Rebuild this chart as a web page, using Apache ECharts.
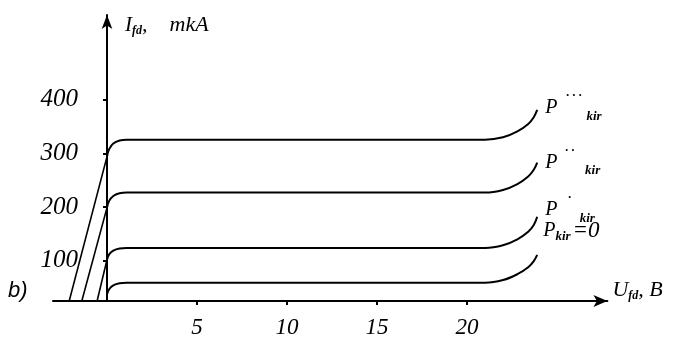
<!DOCTYPE html>
<html>
<head>
<meta charset="utf-8">
<script src="https://cdn.jsdelivr.net/npm/echarts@6/dist/echarts.min.js"></script>
<style>
html,body{margin:0;padding:0;background:#fff;}
#chart{width:676px;height:337px;}
</style>
</head>
<body>
<div id="chart"></div>
<script>
// ---- data ----
const xTicks = [5, 10, 15, 20];
const yTicks = [100, 200, 300, 400];

// U (x) positions of the characteristic curves
const curveU = [0, 0.12, 0.35, 0.7, 1.1, 2, 20, 21.0, 22.0, 22.8, 23.4, 23.7, 23.9];
// I values of the curves
const curveP3 = [294, 308, 318.5, 324, 325.5, 325.5, 325.5, 325.5, 330, 341, 355, 367, 381];
const curveP2 = [199, 211.6, 220.8, 226, 227, 227, 227, 227, 232, 243, 257, 269, 283];
const curveP1 = [102, 112, 119, 123, 124, 124, 124, 124, 129, 140, 154, 166, 182];
const curveP0 = [37, 47, 54, 58, 59, 59, 59, 59, 64, 75, 88, 99, 111];

// load (slanted) lines: start on U axis, end on I axis
const loadStartU = [-2.1, -1.4, -0.55];
const loadEndI = [294, 199, 102];
const axisBaseI = 25;

const serif = '"Liberation Serif", "DejaVu Serif", serif';

function pairs(xs, ys) { return xs.map((x, i) => [x, ys[i]]); }

const chart = echarts.init(document.getElementById('chart'), null, {renderer: 'canvas'});

const lineStyle = {color: '#000', width: 2};

function curveSeries(name, values, fmt, rich, offset) {
  return {
    name: name,
    type: 'line',
    data: pairs(curveU, values),
    smooth: 0.4,
    showSymbol: false,
    symbol: 'none',
    lineStyle: lineStyle,
    silent: true,
    endLabel: {
      show: true,
      formatter: fmt,
      distance: 0,
      offset: offset,
      align: 'left',
      verticalAlign: 'middle',
      rich: rich
    }
  };
}

const pStyle = {fontFamily: serif, fontStyle: 'italic', fontSize: 20, lineHeight: 30, color: '#000', verticalAlign: 'middle'};
function supStyle(padL, padR) {
  return {fontFamily: serif, fontSize: 19, lineHeight: 14, color: '#000', verticalAlign: 'top', padding: [0, padR, 0, padL]};
}
const subStyle = {fontFamily: serif, fontStyle: 'italic', fontWeight: 'bold', fontSize: 13, lineHeight: 12, color: '#000', verticalAlign: 'bottom'};

const series = [
  curveSeries('P3', curveP3, '{p|P}{s|˙˙˙}{k|kir}', {p: pStyle, s: supStyle(7, 3), k: subStyle}, [8, -2]),
  curveSeries('P2', curveP2, '{p|P}{s|˙˙}{k|kir}', {p: pStyle, s: supStyle(6, 9), k: subStyle}, [8, 0]),
  curveSeries('P1', curveP1, '{p|P}{s|˙}{k|kir}', {p: pStyle, s: supStyle(9, 7), k: subStyle}, [8, -7]),
  curveSeries('P0', curveP0, '{p|P}{k|kir}{e|=0}', {
    p: Object.assign({}, pStyle, {lineHeight: 24}),
    k: subStyle,
    e: {fontFamily: serif, fontStyle: 'italic', fontSize: 23, lineHeight: 24, color: '#000', verticalAlign: 'middle', padding: [0, 0, 0, 2]}
  }, [6, -24])
];

loadStartU.forEach((u, i) => {
  series.push({
    type: 'line',
    data: [[u, axisBaseI], [0, loadEndI[i]]],
    showSymbol: false,
    symbol: 'none',
    lineStyle: {color: '#000', width: 1.6},
    silent: true
  });
});

const option = {
  backgroundColor: '#fff',
  animation: false,
  grid: {left: 53, right: 68.6, top: 15, bottom: 36, containLabel: false, outerBoundsMode: 'none'},
  xAxis: {
    type: 'value',
    min: -3,
    max: 27.8,
    splitLine: {show: false},
    axisLine: {show: true, onZero: true, lineStyle: {color: '#000', width: 2}, symbol: ['none', 'arrow'], symbolSize: [9, 14]},
    axisTick: {show: true, customValues: xTicks, length: 4, lineStyle: {color: '#000', width: 2}},
    axisLabel: {show: true, customValues: xTicks, margin: 15, color: '#000', fontFamily: serif, fontStyle: 'italic', fontSize: 23},
    name: '{u|U}{s|fd}{t|, B}',
    nameLocation: 'end',
    nameGap: 5,
    nameTextStyle: {
      align: 'left', verticalAlign: 'middle', padding: [-22, 0, 0, 0],
      rich: {
        u: {fontFamily: serif, fontStyle: 'italic', fontSize: 22, lineHeight: 24, color: '#000', verticalAlign: 'middle'},
        s: {fontFamily: serif, fontStyle: 'italic', fontWeight: 'bold', fontSize: 12, lineHeight: 11, color: '#000', verticalAlign: 'bottom'},
        t: {fontFamily: serif, fontStyle: 'italic', fontSize: 22, lineHeight: 24, color: '#000', verticalAlign: 'middle'}
      }
    }
  },
  yAxis: {
    type: 'value',
    min: axisBaseI,
    max: 558,
    splitLine: {show: false},
    axisLine: {show: true, onZero: true, lineStyle: {color: '#000', width: 2}, symbol: ['none', 'arrow'], symbolSize: [8, 14]},
    axisTick: {show: true, customValues: yTicks, length: 4, lineStyle: {color: '#000', width: 2}},
    axisLabel: {show: true, customValues: yTicks, margin: -25, color: '#000', fontFamily: serif, fontStyle: 'italic', fontSize: 25},
    name: '{i|I}{s|fd}{t|,    mkA}',
    nameLocation: 'end',
    nameGap: -10,
    nameTextStyle: {
      align: 'left', verticalAlign: 'middle', padding: [0, 0, 0, 18],
      rich: {
        i: {fontFamily: serif, fontStyle: 'italic', fontSize: 21, lineHeight: 24, color: '#000', verticalAlign: 'middle'},
        s: {fontFamily: serif, fontStyle: 'italic', fontWeight: 'bold', fontSize: 12, lineHeight: 11, color: '#000', verticalAlign: 'bottom'},
        t: {fontFamily: serif, fontStyle: 'italic', fontSize: 22, lineHeight: 24, color: '#000', verticalAlign: 'middle'}
      }
    }
  },
  graphic: [{
    type: 'text',
    left: 8,
    top: 280,
    style: {text: 'b)', font: 'italic 22px "Liberation Sans", sans-serif', fill: '#000'}
  }],
  series: series
};

chart.setOption(option);
</script>
</body>
</html>
